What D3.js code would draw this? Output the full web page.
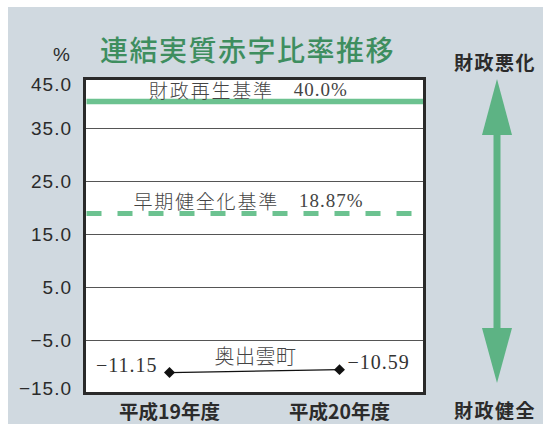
<!DOCTYPE html>
<html><head><meta charset="utf-8">
<script src="https://cdn.jsdelivr.net/npm/d3@7"></script>
<style>html,body{margin:0;padding:0;background:#fff;}svg{display:block;}</style>
</head><body>
<div id="chart"></div>
<script>
// ---- data ----
const title = "連結実質赤字比率推移";
const categories = ["平成19年度", "平成20年度"];
const seriesName = "奥出雲町";
const seriesValues = [-11.15, -10.59];
const seriesLabels = ["−11.15", "−10.59"];
const thresholdNames = ["財政再生基準", "早期健全化基準"];
const thresholdValues = [40.0, 18.87];
const thresholdLabels = ["40.0%", "18.87%"];
const yTicks = [45, 35, 25, 15, 5, -5, -15];
const yTickLabels = ["45.0", "35.0", "25.0", "15.0", "5.0", "−5.0", "−15.0"];
const yUnit = "%";
const arrowTop = "財政悪化";
const arrowBottom = "財政健全";

// ---- layout ----
const W = 543, H = 424;
const plot = {left: 84.5, right: 424.5, top: 78.5, bottom: 393.5};
const svg = d3.select("#chart").append("svg").attr("width", W).attr("height", H);
const CJK = "'Noto Sans CJK JP', 'Noto Sans CJK SC', sans-serif";
const SERIF = "'Liberation Serif', 'DejaVu Serif', 'Noto Sans CJK JP', serif";
const SANS = "'Liberation Sans', Arial, 'Noto Sans CJK JP', sans-serif";
const green = "#6cc290", darkGreen = "#3e8e5f", arrowGreen = "#5db384";

svg.append("rect").attr("x", 8).attr("y", 7).attr("width", W - 8).attr("height", H - 7).attr("fill", "#d0d9e0");

const y = d3.scaleLinear().domain([-15, 45]).range([393, 75]);
const x = d3.scalePoint().domain(categories).range([plot.left, plot.right]).padding(0.5);

// plot background
svg.append("rect").attr("x", plot.left).attr("y", plot.top)
  .attr("width", plot.right - plot.left).attr("height", plot.bottom - plot.top).attr("fill", "#fff");

// grid lines
svg.append("g").selectAll("line").data(yTicks.filter(t => t > -15 && t < 45)).join("line")
  .attr("x1", plot.left + 1.5).attr("x2", plot.right - 1.5)
  .attr("y1", d => Math.round(y(d)) + 0.5).attr("y2", d => Math.round(y(d)) + 0.5)
  .attr("stroke", "#555").attr("stroke-width", 1);

// y tick labels
svg.append("g").selectAll("text").data(yTicks).join("text")
  .attr("x", 72)
  .attr("y", d => Math.max(plot.top + 6, Math.min(plot.bottom - 5, y(d))))
  .attr("text-anchor", "end").attr("dominant-baseline", "central")
  .attr("font-family", SANS).attr("font-size", 19).attr("letter-spacing", 1)
  .attr("fill", "#2b2b2b")
  .text((d, i) => yTickLabels[i]);

svg.append("text").attr("x", 70).attr("y", 54).attr("text-anchor", "end")
  .attr("dominant-baseline", "central").attr("font-family", SANS).attr("font-size", 19)
  .attr("fill", "#2b2b2b").text(yUnit);

// threshold lines
const thr = svg.append("g");
thresholdValues.forEach((v, i) => {
  thr.append("line")
    .attr("x1", plot.left + 2).attr("x2", plot.right - 1.5)
    .attr("y1", y(v)).attr("y2", y(v))
    .attr("stroke", green).attr("stroke-width", i === 0 ? 5.5 : 5)
    .attr("stroke-dasharray", i === 0 ? null : "15,16");
  const t = thr.append("text")
    .attr("x", (plot.left + plot.right) / 2 - 6).attr("y", y(v) - 13)
    .attr("text-anchor", "middle").attr("dominant-baseline", "central")
    .attr("font-family", SERIF).attr("font-size", 19).attr("fill", "#444");
  t.append("tspan").attr("font-family", CJK).attr("font-weight", 300).attr("letter-spacing", 1.8).text(thresholdNames[i]);
  t.append("tspan").attr("dx", 20).attr("letter-spacing", 1).text(thresholdLabels[i]);
});

// series
const pts = categories.map((c, i) => [x(c), y(seriesValues[i])]);
svg.append("path").attr("d", d3.line()(pts)).attr("fill", "none").attr("stroke", "#111").attr("stroke-width", 1.2);
svg.append("g").selectAll("path").data(pts).join("path")
  .attr("d", d3.symbol().type(d3.symbolSquare).size(60)())
  .attr("transform", d => `translate(${d[0]},${d[1]}) rotate(45)`)
  .attr("fill", "#111");
svg.append("g").selectAll("text").data(pts).join("text")
  .attr("x", (d, i) => i === 0 ? d[0] - 12 : d[0] + 8)
  .attr("y", d => d[1] - 8)
  .attr("text-anchor", (d, i) => i === 0 ? "end" : "start")
  .attr("dominant-baseline", "central")
  .attr("font-family", SERIF).attr("font-size", 20).attr("letter-spacing", 1).attr("fill", "#333")
  .text((d, i) => seriesLabels[i]);
svg.append("text")
  .attr("x", (pts[0][0] + pts[1][0]) / 2 + 1)
  .attr("y", (pts[0][1] + pts[1][1]) / 2 - 16)
  .attr("text-anchor", "middle").attr("dominant-baseline", "central")
  .attr("font-family", CJK).attr("font-weight", 300).attr("font-size", 20).attr("letter-spacing", 0.5)
  .attr("fill", "#444").text(seriesName);

// frame
svg.append("rect").attr("x", plot.left).attr("y", plot.top)
  .attr("width", plot.right - plot.left).attr("height", plot.bottom - plot.top)
  .attr("fill", "none").attr("stroke", "#2a2a2a").attr("stroke-width", 3);

// x labels
svg.append("g").selectAll("text").data(categories).join("text")
  .attr("x", d => x(d)).attr("y", 410)
  .attr("text-anchor", "middle").attr("dominant-baseline", "central")
  .attr("font-family", CJK).attr("font-weight", 700).attr("font-size", 19.5)
  .attr("fill", "#2b2b2b").text(d => d);

// title
svg.append("text").attr("x", 100).attr("y", 49).attr("dominant-baseline", "central")
  .attr("font-family", CJK).attr("font-weight", 500).attr("font-size", 28).attr("letter-spacing", 1.5)
  .attr("fill", darkGreen).text(title);

// direction arrow
const ax = 497;
svg.append("line").attr("x1", ax).attr("x2", ax).attr("y1", 130).attr("y2", 333)
  .attr("stroke", arrowGreen).attr("stroke-width", 7);
svg.append("path").attr("d", `M${ax},79 L${ax + 15},135 L${ax - 15},135 Z`).attr("fill", arrowGreen);
svg.append("path").attr("d", `M${ax},383 L${ax + 15},328 L${ax - 15},328 Z`).attr("fill", arrowGreen);
[[arrowTop, 61], [arrowBottom, 409]].forEach(([t, yy]) => {
  svg.append("text").attr("x", 495).attr("y", yy).attr("text-anchor", "middle")
    .attr("dominant-baseline", "central").attr("font-family", CJK).attr("font-weight", 700)
    .attr("font-size", 19).attr("letter-spacing", 1.5).attr("fill", "#2b2b2b").text(t);
});
</script>
</body></html>
